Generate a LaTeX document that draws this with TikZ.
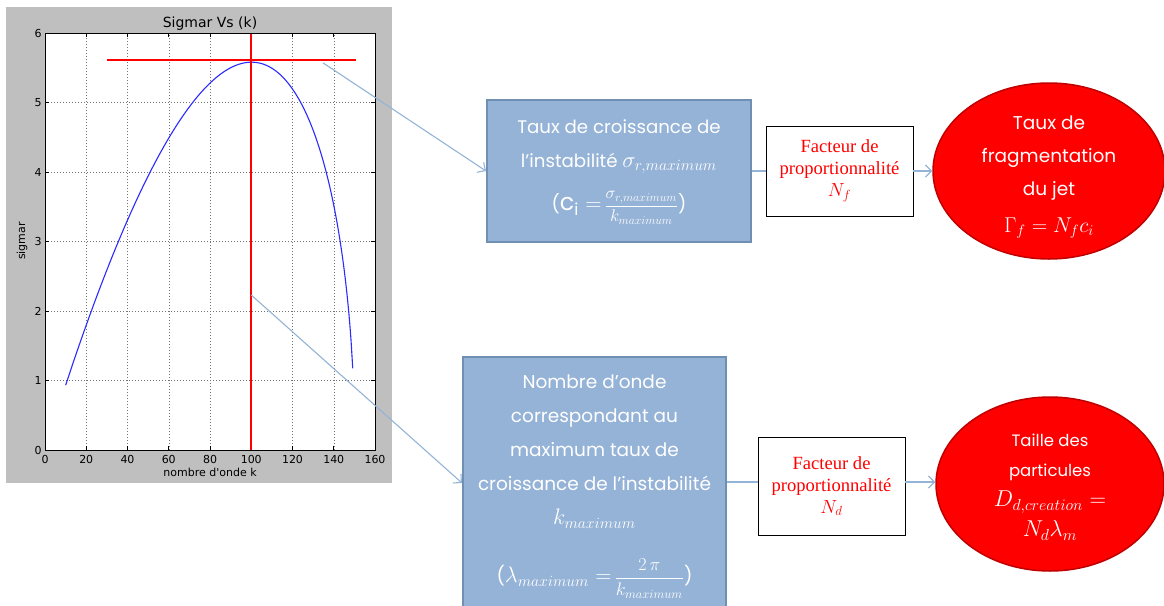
\documentclass[tikz,border=0pt]{standalone}
\usepackage{amsmath}
\usepackage{graphicx}
\usepackage{fontspec}
\setmainfont{Poppins}
\newfontfamily\mplfont{DejaVu Sans}
\newfontfamily\timesfont{Liberation Serif}
\usetikzlibrary{arrows.meta,shapes.geometric}
\definecolor{boxfill}{HTML}{95B3D7}
\definecolor{boxline}{HTML}{6F8FB3}
\definecolor{connc}{HTML}{93B4D6}
\definecolor{ellline}{HTML}{C00000}
\definecolor{plotgrey}{HTML}{BFBFBF}
\definecolor{curveblue}{HTML}{2B2BFF}
\newcommand{\scaledmath}[2]{\scalebox{#1}{$#2$}}
\begin{document}
\begin{tikzpicture}[x=1pt,y=-1pt,
  connector/.style={draw=connc, line width=1.1pt},
  tipped/.style={-{Straight Barb[length=6pt,width=12pt]}},
  bluebox/.style={rectangle, draw=boxline, line width=2pt, fill=boxfill, inner sep=0pt},
  whitetext/.style={text=white, align=center, inner sep=0pt},
  factbox/.style={rectangle, draw=black, line width=0.8pt, fill=white, text=red, align=center,
     font=\timesfont\fontsize{18.6}{22}\selectfont, inner sep=0pt},
  redell/.style={ellipse, draw=ellline, line width=1.5pt, fill=red, inner sep=0pt},
  gridline/.style={draw=black!55, line width=0.5pt, dash pattern=on 1pt off 2pt},
  tickmark/.style={draw=black, line width=0.6pt},
  ticklabel/.style={inner sep=0pt, font=\mplfont\fontsize{11}{11}\selectfont},
  curve/.style={draw=curveblue, line width=1.1pt}]
\clip (0,0) rectangle (1164,605);
% ---------- plot ----------
\fill[plotgrey] (6,7) rectangle (392,483);
\node[ticklabel, font=\mplfont\fontsize{14}{14}\selectfont] (title) at (210,24) {Sigmar Vs (k)};
\node[ticklabel, rotate=90] (ylab) at (22,241) {sigmar};
\node[ticklabel] (xlab) at (210,472) {nombre d'onde k};
\begin{scope}[shift={(45,450)}, xscale=2.0625, yscale=-69.5]
  \fill[white] (0,0) rectangle (160,6);
  \foreach \k in {20,40,60,80,120,140} \draw[gridline] (\k,0) -- (\k,6);
  \foreach \s in {1,...,5} \draw[gridline] (0,\s) -- (160,\s);
  \foreach \k in {0,20,...,160} {
    \draw[tickmark] (\k,0) -- (\k,0.058);
    \draw[tickmark] (\k,6) -- (\k,5.942);
    \node[ticklabel, anchor=north] (xt\k) at (\k,-0.07) {\k};
  }
  \foreach \s in {0,...,6} {
    \draw[tickmark] (0,\s) -- (1.94,\s);
    \draw[tickmark] (160,\s) -- (158.06,\s);
    \node[ticklabel, anchor=east] (yt\s) at (-1.6,\s) {\s};
  }
  \draw[curve] plot[domain=10:149.2, samples=160, smooth] (\x,{\x*sqrt(0.6203*(150.2-\x))/100});
  \coordinate (p1) at (134.8,5.57);
  \coordinate (p2) at (100,2.23);
\end{scope}
\fill[red] (107,59.2) rectangle (356,60.8);
\fill[red] (250.4,33) rectangle (252.1,450);
\draw[black, line width=1pt] (45,33) rectangle (375,450);
% ---------- top row ----------
\node[bluebox, minimum width=264pt, minimum height=142pt] (tb) at (619,171) {};
\node[whitetext, font=\fontsize{18.2}{34}\selectfont] (tbt) at (619,172)
  {Taux de croissance de\\ l’instabilité \scaledmath{1.3}{\sigma_{r,maximum}}\\[9pt]
   (\scaledmath{1.3}{\mathrm{c}_{\mathrm{i}} =}\,\scaledmath{0.98}{\dfrac{\sigma_{r,maximum}}{k_{maximum}}})};
\node[factbox, minimum width=147pt, minimum height=90pt] (f1) at (839.5,171)
  {Facteur de\\ proportionnalité\\ \scaledmath{1.1}{N_f}};
\node[redell, minimum width=232pt, minimum height=176pt] (e1) at (1049,171) {};
\node[whitetext, font=\fontsize{18.5}{33}\selectfont] (e1t) at (1049,177)
  {Taux de\\ fragmentation\\ du jet\\[4pt] \scaledmath{1.24}{\Gamma_f = N_f c_i}};
% ---------- bottom row ----------
\node[bluebox, minimum width=263pt, minimum height=270pt] (bb) at (594.5,492) {};
\node[whitetext, font=\fontsize{18.5}{34}\selectfont, anchor=north] (bbt) at (594.5,375)
  {Nombre d’onde\\ correspondant au\\ maximum taux de\\ croissance de l’instabilité\\ \scaledmath{1.3}{k_{maximum}}\\[24pt]
   (\scaledmath{1.3}{\lambda_{maximum} =}\,\scaledmath{1.05}{\dfrac{2\,\pi}{k_{maximum}}})};
\node[factbox, minimum width=147pt, minimum height=98pt] (f2) at (831.5,486)
  {Facteur de\\ proportionnalité\\ \scaledmath{1.1}{N_d}};
\node[redell, minimum width=228pt, minimum height=174pt] (e2) at (1050,484) {};
\node[whitetext, font=\fontsize{16.5}{30}\selectfont] (e2t) at (1050,487)
  {Taille des\\ particules\\ \scaledmath{1.33}{D_{d,creation} =}\\ \scaledmath{1.33}{N_d\lambda_m}};
% ---------- connectors ----------
\draw[connector, tipped] (p1) -- (tb.west);
\draw[connector, tipped] (p2) -- (bb.west |- 0,483);
\draw[connector] (tb.east) -- (f1.west);
\draw[connector, tipped] (f1.east) -- (f1.east -| e1.west);
\draw[connector] (bb.east |- 0,482) -- (f2.west |- 0,482);
\draw[connector, tipped] (f2.east |- 0,482) -- (e2.west |- 0,482);
\end{tikzpicture}
\end{document}
